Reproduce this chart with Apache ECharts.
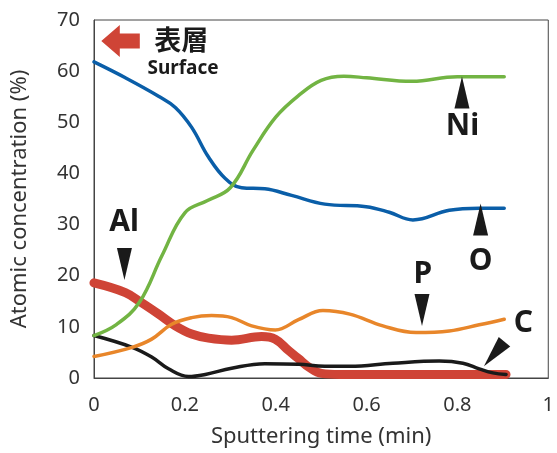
<!DOCTYPE html>
<html><head><meta charset="utf-8">
<script src="https://cdn.jsdelivr.net/npm/echarts@6/dist/echarts.min.js"></script>
<style>html,body{margin:0;padding:0;background:#fff}#c{width:557px;height:453px}</style>
</head><body><div id="c"></div>
<script>
var oxygenT   = [0,0.069,0.142,0.179,0.215,0.252,0.289,0.325,0.376,0.435,0.508,0.599,0.65,0.702,0.782,0.848,0.903];
var oxygen    = [61.8,58.7,55.1,52.9,49.0,43.2,39.0,37.2,37.0,35.7,34.0,33.5,32.4,30.9,32.8,33.2,33.2];
var nickelT   = [0,0.05,0.1,0.15,0.2,0.25,0.3,0.35,0.4,0.45,0.5,0.55,0.6,0.7,0.8,0.903];
var nickel    = [8.3,10.5,14.8,24.0,32.3,34.7,37.2,44.5,51.0,55.2,58.2,59.0,58.7,58.0,58.9,58.9];
var phosphorT = [0,0.084,0.127,0.171,0.215,0.259,0.303,0.347,0.399,0.45,0.504,0.563,0.636,0.709,0.782,0.848,0.903];
var phosphor  = [4.2,6.0,7.6,10.5,11.8,12.2,11.8,10.2,9.4,11.4,13.2,12.5,10.2,8.9,9.2,10.4,11.5];
var aluminumT = [0,0.069,0.105,0.142,0.179,0.215,0.252,0.303,0.369,0.399,0.428,0.45,0.475,0.501,0.54,0.7,0.907];
var aluminum  = [18.6,16.7,14.7,12.5,10.2,8.6,7.8,7.4,8.1,7.6,5.4,3.8,2.0,0.9,0.7,0.7,0.7];
var carbonT   = [0,0.084,0.127,0.164,0.208,0.245,0.303,0.376,0.45,0.508,0.563,0.658,0.76,0.812,0.848,0.878,0.907];
var carbon    = [8.3,6.0,4.1,1.8,0.3,0.7,1.9,2.8,2.7,2.3,2.3,2.9,3.3,2.9,1.8,1.0,0.7];
var yTicks = [0,10,20,30,40,50,60,70];
var xTicks = [0,0.2,0.4,0.6,0.8,1];

// annotation labels [text, x, y]
var labels = [['Al',0.066,30.5],['P',0.724,20.3],['O',0.851,22.7],['Ni',0.811,49.2],['C',0.945,10.6]];
// pointer triangles [x, y, rotation in degrees, clockwise from pointing down]
var pointers = [[0.067,22.3,0],[0.722,13.3,0],[0.851,31.0,180],[0.81,55.8,180],[0.881,4.7,40]];

function pairs(t,v){return t.map(function(x,i){return [x,v[i]];});}
var chart = echarts.init(document.getElementById('c'));
var font = 'Noto Sans';
function ser(name,t,data,color,w,z){
  return {name:name,type:'line',data:pairs(t,data),smooth:0.4,showSymbol:false,symbol:'none',z:z,
    lineStyle:{color:color,width:w,cap:'round',join:'round'}};
}
chart.setOption({
  animation:false,
  grid:{left:94,right:8,top:20,bottom:72,show:true,borderColor:'#444',borderWidth:1},
  xAxis:{type:'value',min:0,max:1,interval:0.2,
    axisLine:{show:true,lineStyle:{color:'#444'}},axisTick:{show:false},splitLine:{show:false},
    axisLabel:{color:'#333',fontSize:20,fontFamily:font,margin:17,formatter:function(v){return xTicks.indexOf(v)>=0?String(v):'';}},
    name:'Sputtering time (min)',nameLocation:'middle',nameGap:48,nameTextStyle:{color:'#333',fontSize:22,fontFamily:font}},
  yAxis:{type:'value',min:0,max:70,interval:10,
    axisLine:{show:true,lineStyle:{color:'#444'}},axisTick:{show:false},splitLine:{show:false},
    axisLabel:{color:'#333',fontSize:20,fontFamily:font,margin:14,formatter:function(v){return yTicks.indexOf(v)>=0?String(v):'';}},
    name:'Atomic concentration (%)',nameLocation:'middle',nameGap:63,nameTextStyle:{color:'#333',fontSize:22,fontFamily:font}},
  series:[
    ser('Al',aluminumT,aluminum,'#cf4436',9,1),
    ser('C',carbonT,carbon,'#1a1a1a',3.5,2),
    ser('P',phosphorT,phosphor,'#e8862a',3.5,3),
    ser('O',oxygenT,oxygen,'#0a5ea8',3.5,4),
    ser('Ni',nickelT,nickel,'#72b443',3.5,5)
  ]
});

var g = [];
labels.forEach(function(l){
  var p = chart.convertToPixel('grid',[l[1],l[2]]);
  g.push({type:'text',x:p[0],y:p[1],z:10,style:{text:l[0],font:'bold 30px "Noto Sans"',fill:'#1a1a1a',align:'center',verticalAlign:'middle'}});
});
pointers.forEach(function(a){
  var p = chart.convertToPixel('grid',[a[0],a[1]]);
  g.push({type:'polygon',x:p[0],y:p[1],rotation:-a[2]*Math.PI/180,z:10,
    shape:{points:[[-7.5,-16],[7.5,-16],[0,16]]},style:{fill:'#1a1a1a'}});
});
var s1 = chart.convertToPixel('grid',[0.192,66.1]);
var s2 = chart.convertToPixel('grid',[0.196,60.5]);
g.push({type:'text',x:s1[0],y:s1[1],z:10,style:{text:'表層',font:'bold 27px "Noto Sans CJK JP"',fill:'#1a1a1a',align:'center',verticalAlign:'middle'}});
g.push({type:'text',x:s2[0],y:s2[1],z:10,style:{text:'Surface',font:'bold 19px "Noto Sans"',fill:'#1a1a1a',align:'center',verticalAlign:'middle'}});
var ar = chart.convertToPixel('grid',[0.059,65.9]);
g.push({type:'polygon',x:ar[0],y:ar[1],z:10,
  shape:{points:[[-19.5,0],[-1,-16],[-1,-7.5],[19,-7.5],[19,7.5],[-1,7.5],[-1,16]]},style:{fill:'#cf4436'}});
chart.setOption({graphic:g});
</script></body></html>
